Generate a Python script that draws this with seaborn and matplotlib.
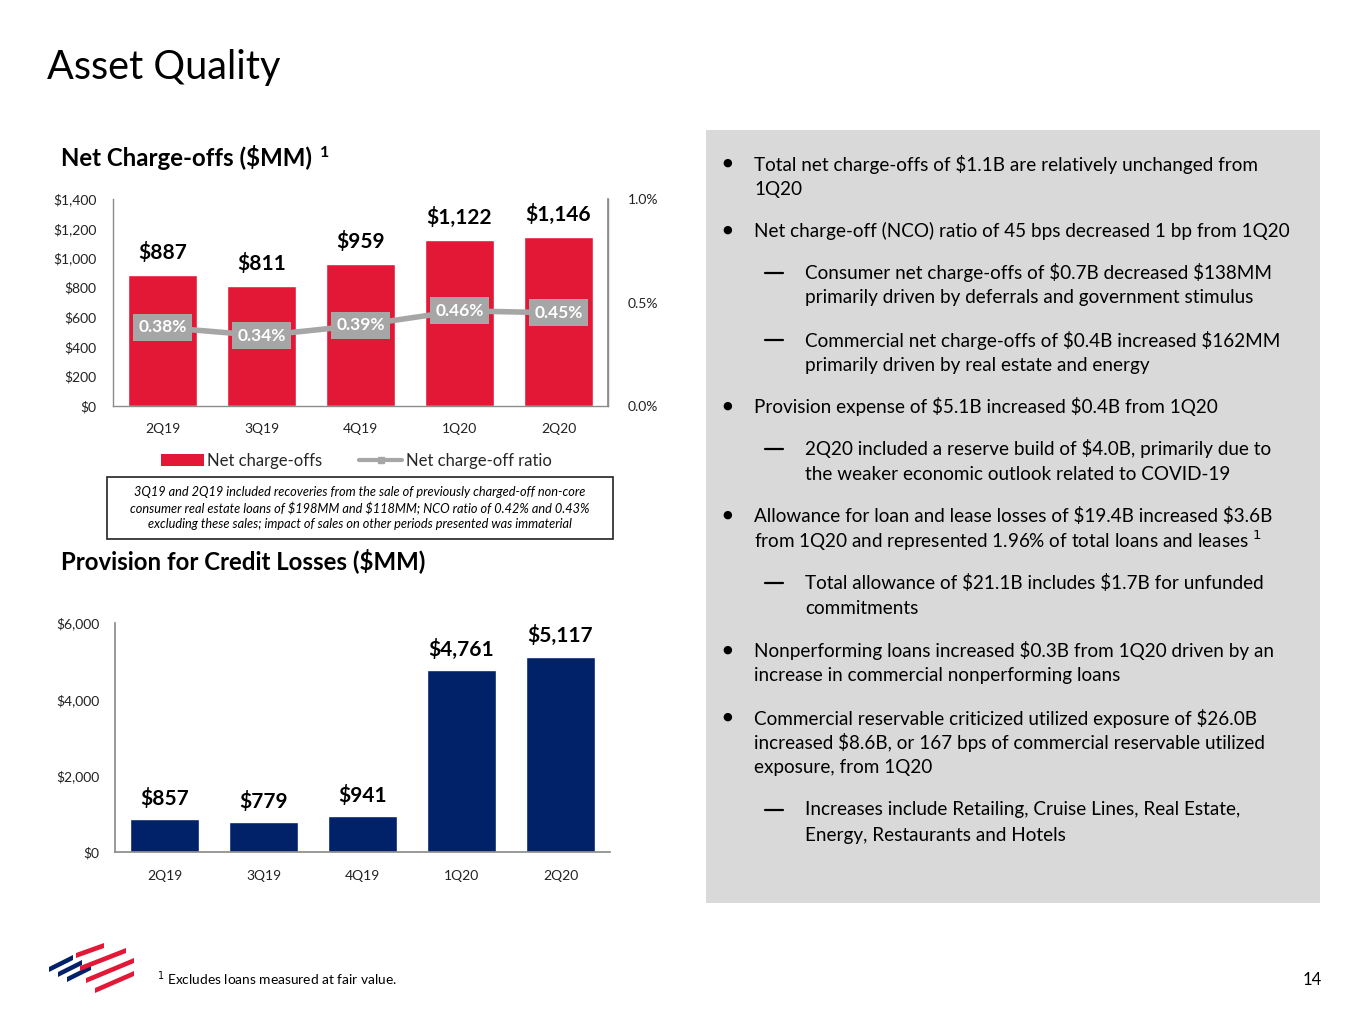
import numpy as np
import pandas as pd
import matplotlib
matplotlib.use("Agg")
import matplotlib.pyplot as plt
from matplotlib.patches import Rectangle, Patch, Polygon
from matplotlib.lines import Line2D
import seaborn as sns

# ---------------- data ----------------
quarters = ["2Q19", "3Q19", "4Q19", "1Q20", "2Q20"]
net_charge_offs = [887, 811, 959, 1122, 1146]
nco_ratio = [0.38, 0.34, 0.39, 0.46, 0.45]
provision = [857, 779, 941, 4761, 5117]
nco_ticks = [0, 200, 400, 600, 800, 1000, 1200, 1400]
ratio_ticks = [0.0, 0.5, 1.0]
prov_ticks = [0, 2000, 4000, 6000]

RED = "#E31837"
NAVY = "#012169"
GRAY = "#A6A6A6"
PANEL = "#D9D9D9"

sns.set_theme(style="white")
plt.rcParams["font.family"] = ["Lato", "DejaVu Sans"]

W, H = 1365, 1024
fig = plt.figure(figsize=(W / 100, H / 100), dpi=100)
fig.patch.set_facecolor("white")


def fx(x):
    return x / W


def fy(y):
    return 1 - y / H


def rect(x0, y0, x1, y1):
    return [fx(x0), fy(y1), (x1 - x0) / W, (y1 - y0) / H]


def ftext(x, y, s, **kw):
    kw.setdefault("va", "center")
    kw.setdefault("ha", "left")
    fig.text(fx(x), fy(y), s, **kw)


# ---------------- title ----------------
ftext(47, 68, "Asset Quality", fontsize=28.5, color="black")

# ---------------- right panel ----------------
fig.patches.append(Rectangle((fx(706), fy(903)), (1320 - 706) / W, (903 - 130) / H,
                             transform=fig.transFigure, facecolor=PANEL, edgecolor="none", zorder=0))

BX, TX, STX = 727, 754, 805
fs = 13.6
bullets = [
    ("b", 164, "Total net charge-offs of $1.1B are relatively unchanged from"),
    ("c", 189, "1Q20"),
    ("b", 231, "Net charge-off (NCO) ratio of 45 bps decreased 1 bp from 1Q20"),
    ("d", 273, "Consumer net charge-offs of $0.7B decreased $138MM"),
    ("s", 298, "primarily driven by deferrals and government stimulus"),
    ("d", 340, "Commercial net charge-offs of $0.4B increased $162MM"),
    ("s", 365, "primarily driven by real estate and energy"),
    ("b", 407, "Provision expense of $5.1B increased $0.4B from 1Q20"),
    ("d", 449, "2Q20 included a reserve build of $4.0B, primarily due to"),
    ("s", 474, "the weaker economic outlook related to COVID-19"),
    ("b", 516, "Allowance for loan and lease losses of $19.4B increased $3.6B"),
    ("c", 541, "from 1Q20 and represented 1.96% of total loans and leases $^{1}$"),
    ("d", 583, "Total allowance of $21.1B includes $1.7B for unfunded"),
    ("s", 608, "commitments"),
    ("b", 651, "Nonperforming loans increased $0.3B from 1Q20 driven by an"),
    ("c", 676, "increase in commercial nonperforming loans"),
    ("b", 718, "Commercial reservable criticized utilized exposure of $26.0B"),
    ("c", 743, "increased $8.6B, or 167 bps of commercial reservable utilized"),
    ("c", 768, "exposure, from 1Q20"),
    ("d", 810, "Increases include Retailing, Cruise Lines, Real Estate,"),
    ("s", 835, "Energy, Restaurants and Hotels"),
]
for kind, y, s in bullets:
    if "^{1}" not in s:
        s = s.replace("$", r"\$")
    if kind == "b":
        ftext(BX, y - 1, "●", fontsize=8, ha="center", color="black", family="DejaVu Sans")
        ftext(TX, y, s, fontsize=fs, color="black")
    elif kind == "c":
        ftext(TX, y, s, fontsize=fs, color="black")
    elif kind == "d":
        fig.add_artist(Line2D([fx(765), fx(783)], [fy(y), fy(y)], color="black",
                              linewidth=1.6, transform=fig.transFigure))
        ftext(STX, y, s, fontsize=fs, color="black")
    else:
        ftext(STX, y, s, fontsize=fs, color="black")

# ---------------- chart 1: net charge-offs ----------------
ftext(61, 157, r"Net Charge-offs (\$MM)", fontsize=17.3, fontweight="bold", color="black")
ftext(320, 153, "1", fontsize=11.5, fontweight="bold", color="black")

ax1 = fig.add_axes(rect(113, 199, 608, 406))
df1 = pd.DataFrame({"q": quarters, "v": net_charge_offs})
sns.barplot(data=df1, x="q", y="v", ax=ax1, color=RED, saturation=1, width=0.69)
ax1.set_xlim(-0.5, 4.5)
ax1.set_ylim(0, 1400)
ax1.set_yticks(nco_ticks)
ax1.set_yticklabels([f"${t:,}" for t in nco_ticks])
ax1.set_xlabel("")
ax1.set_ylabel("")
ax1.tick_params(axis="both", length=0, labelsize=10, colors="#222222")
ax1.tick_params(axis="x", pad=12)
ax1.tick_params(axis="y", pad=12)
ax1.spines["top"].set_visible(False)
for sp in ["left", "bottom", "right"]:
    ax1.spines[sp].set_color("#8C8C8C")
    ax1.spines[sp].set_linewidth(1.0)
for i, v in enumerate(net_charge_offs):
    ax1.annotate(f"${v:,}", (i, v), xytext=(0, 16), textcoords="offset points",
                 ha="center", va="center", fontsize=15, fontweight="bold", color="black")

ax1b = ax1.twinx()
sns.lineplot(x=np.arange(len(quarters)), y=nco_ratio, ax=ax1b, color=GRAY, linewidth=4,
             marker="s", markersize=6, markeredgewidth=0)
ax1b.set_ylim(0, 1.0)
ax1b.set_yticks(ratio_ticks)
ax1b.set_yticklabels([f"{t:.1f}%" for t in ratio_ticks])
ax1b.tick_params(axis="y", length=0, labelsize=10, colors="#222222", pad=14)
ax1b.spines["top"].set_visible(False)
ax1b.spines["right"].set_color("#8C8C8C")
ax1b.spines["left"].set_visible(False)
ax1b.spines["bottom"].set_visible(False)
for i, r in enumerate(nco_ratio):
    ax1b.text(i, r, f"{r:.2f}%", ha="center", va="center", fontsize=12.5, fontweight="bold",
              color="white",
              bbox=dict(boxstyle="square,pad=0.32", facecolor=GRAY, edgecolor="none"))

# legend
leg_handles = [Patch(facecolor=RED, edgecolor="none"),
               Line2D([0], [0], color=GRAY, lw=3, marker="s", markersize=5)]
fig.legend(leg_handles, ["Net charge-offs", "Net charge-off ratio"], ncol=2,
           loc="center", bbox_to_anchor=(fx(356), fy(461)), frameon=False,
           fontsize=12, handlelength=2.6, handletextpad=0.2, columnspacing=2.2)

# note box
fig.patches.append(Rectangle((fx(107), fy(539)), (613 - 107) / W, (539 - 477) / H,
                             transform=fig.transFigure, facecolor="white",
                             edgecolor="#222222", linewidth=1.2))
note = ["3Q19 and 2Q19 included recoveries from the sale of previously charged-off non-core",
        "consumer real estate loans of $198MM and $118MM; NCO ratio of 0.42% and 0.43%",
        "excluding these sales; impact of sales on other periods presented was immaterial"]
for k, line in enumerate(note):
    ftext(360, 492 + 16 * k, line.replace("$", r"\$"), fontsize=9.2, style="italic",
          ha="center", color="black")

# ---------------- chart 2: provision ----------------
ftext(61, 561, r"Provision for Credit Losses (\$MM)", fontsize=17.3, fontweight="bold", color="black")

ax2 = fig.add_axes(rect(115, 623, 610, 852))
df2 = pd.DataFrame({"q": quarters, "v": provision})
sns.barplot(data=df2, x="q", y="v", ax=ax2, color=NAVY, saturation=1, width=0.69)
ax2.set_xlim(-0.5, 4.5)
ax2.set_ylim(0, 6000)
ax2.set_yticks(prov_ticks)
ax2.set_yticklabels([f"${t:,}" for t in prov_ticks])
ax2.set_xlabel("")
ax2.set_ylabel("")
ax2.tick_params(axis="both", length=0, labelsize=10, colors="#222222")
ax2.tick_params(axis="x", pad=13)
ax2.tick_params(axis="y", pad=11)
ax2.spines["top"].set_visible(False)
ax2.spines["right"].set_visible(False)
for sp in ["left", "bottom"]:
    ax2.spines[sp].set_color("#8C8C8C")
for i, v in enumerate(provision):
    ax2.annotate(f"${v:,}", (i, v), xytext=(0, 15), textcoords="offset points",
                 ha="center", va="center", fontsize=15, fontweight="bold", color="black")

# ---------------- footer ----------------
ftext(157, 979, r"$^{1}$ Excludes loans measured at fair value.", fontsize=9.9, color="black")
ftext(1322, 980, "14", fontsize=12, ha="right", color="black")

# logo (simple stripes)
def stripe(x0, y0, x1, y1, w, color):
    pts = [(fx(x0), fy(y0)), (fx(x1), fy(y1)), (fx(x1), fy(y1 + w)), (fx(x0), fy(y0 + w))]
    fig.patches.append(Polygon(pts, closed=True, transform=fig.transFigure,
                               facecolor=color, edgecolor="none"))

stripe(49, 967, 73, 955, 5, NAVY)
stripe(58, 972, 82, 960, 5, NAVY)
stripe(67, 977, 91, 965, 5, NAVY)
stripe(76, 953, 104, 943, 5, RED)
stripe(80, 966, 126, 948, 5, RED)
stripe(86, 978, 134, 958, 5, RED)
stripe(95, 988, 134, 971, 5, RED)

fig.savefig("out.png", dpi=100)
